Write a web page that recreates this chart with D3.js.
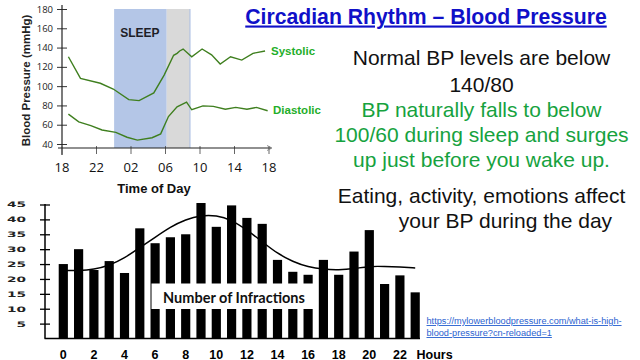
<!DOCTYPE html>
<html><head><meta charset="utf-8">
<script src="https://cdn.jsdelivr.net/npm/d3@7"></script>
<style>
body{margin:0;background:#fff;}
svg{display:block;}
</style>
</head><body>
<svg id="c" width="640" height="360" font-family="'Liberation Sans', Arial, sans-serif"></svg>
<script>
// ---------- data: blood pressure chart ----------
const bpTicks = [18, 22, 26, 30, 34, 38, 42];
const bpTickLabels = ["18", "22", "02", "06", "10", "14", "18"];
const bpYTicks = [40, 60, 80, 100, 120, 140, 160, 180];
const systolicHours  = [18.8, 20.2, 22.5, 24.0, 25.8, 27.0, 28.7, 29.9, 31.0, 31.4, 31.7, 32.1, 33.1, 34.3, 35.4, 36.4, 37.6, 38.9, 40.2, 41.6];
const systolicValues = [130.5, 108, 103, 97, 86, 85, 93, 111.5, 132, 134, 136.5, 138.5, 130.5, 138.5, 132.5, 123, 130.5, 127, 134, 136.5];
const diastolicHours  = [18.8, 20.0, 21.4, 22.7, 24.3, 25.6, 26.8, 28.5, 29.5, 30.4, 31.4, 32.5, 33.1, 34.4, 35.6, 37.0, 38.2, 39.5, 40.6, 41.9];
const diastolicValues = [71, 63, 59, 54.5, 52, 47, 44, 46.5, 50.5, 68.5, 78.5, 83.5, 75.5, 79.5, 79, 76, 78, 76, 78, 74.5];
const sleepPeriod = [24.1, 30.2];
const wakePeriod = [30.2, 32.9];

// ---------- data: infarction chart ----------
const infHours  = [0,1,2,3,4,5,6,7,8,9,10,11,12,13,14,15,16,17,18,19,20,21,22,23];
const infCounts = [25, 30, 23, 26, 22, 37, 32, 34, 35, 45.5, 37.5, 44.7, 40.5, 38.5, 26.4, 22.4, 21.4, 26.4, 21.4, 29.2, 36.4, 18.3, 21.2, 15.5];
const infTrend  = [22.8, 22.8, 23.2, 24.5, 27, 30.5, 34, 37.5, 40, 41.4, 41.4, 39.8, 36.5, 32.5, 28.5, 25.8, 24, 23.2, 23, 23.4, 24.3, 24.2, 24, 23.7];
const infYTicks = [5, 10, 15, 20, 25, 30, 35, 40, 45];
const infXLabelHours = [0, 2, 4, 6, 8, 10, 12, 14, 16, 18, 20, 22];

// ---------- text ----------
const titleText = "Circadian Rhythm \u2013 Blood Pressure";
const blackLines1 = ["Normal BP levels are below", "140/80"];
const greenLines = ["BP naturally falls to below", "100/60 during sleep and surges", "up just before you wake up."];
const blackLines2 = ["Eating, activity, emotions affect", "your BP during the day"];
const linkLines = ["https://mylowerbloodpressure.com/what-is-high-", "blood-pressure?cn-reloaded=1"];

const svg = d3.select("#c");
svg.append("rect").attr("width", 640).attr("height", 360).attr("fill", "#fff");

// ================= Top chart =================
const x1 = d3.scaleLinear().domain([18, 42]).range([61.5, 268.5]);
const y1 = d3.scaleLinear().domain([40, 180]).range([144, 9]);
const topG = svg.append("g");

topG.append("rect").attr("x", x1(sleepPeriod[0])).attr("y", 9)
  .attr("width", x1(sleepPeriod[1]) - x1(sleepPeriod[0])).attr("height", 148 - 9)
  .attr("fill", "#b4c6e7");
topG.append("rect").attr("x", x1(wakePeriod[0])).attr("y", 9)
  .attr("width", x1(wakePeriod[1]) - x1(wakePeriod[0])).attr("height", 148 - 9)
  .attr("fill", "#d9d9d9");
topG.append("line").attr("x1", x1(wakePeriod[1])).attr("x2", x1(wakePeriod[1]))
  .attr("y1", 9).attr("y2", 148).attr("stroke", "#a9bde3").attr("stroke-width", 1);
topG.append("text").attr("x", x1((sleepPeriod[0] + sleepPeriod[1]) / 2) - 0.5).attr("y", 36.5)
  .attr("text-anchor", "middle").attr("font-size", 12).attr("font-weight", "bold")
  .attr("fill", "#1e1e28").text("SLEEP");

// y axis
const yAx1 = topG.append("g").attr("transform", "translate(62,0)")
  .call(d3.axisLeft(y1).tickValues(bpYTicks).tickSize(5).tickPadding(4));
yAx1.attr("font-family", null);
yAx1.select(".domain").remove();
yAx1.selectAll(".tick line").attr("x1", -5).attr("x2", 5).attr("stroke", "#333");
yAx1.selectAll(".tick text").attr("font-size", 9.5).attr("fill", "#222")
  .attr("font-family", "'Open Sans', sans-serif").attr("x", -9);
topG.append("line").attr("x1", 62).attr("x2", 62).attr("y1", 5).attr("y2", 155)
  .attr("stroke", "#222").attr("stroke-width", 1.2);

// x axis
const xAx1 = topG.append("g").attr("transform", "translate(0,148)")
  .call(d3.axisBottom(x1).tickValues(bpTicks).tickFormat((d, i) => bpTickLabels[i]).tickSize(6).tickPadding(9));
xAx1.select(".domain").remove();
xAx1.selectAll(".tick line").attr("y1", -2).attr("y2", 6).attr("stroke", "#666");
xAx1.selectAll(".tick text").attr("font-size", 13).attr("fill", "#111")
  .attr("font-family", "'Open Sans', sans-serif");
topG.append("line").attr("x1", 58).attr("x2", 271).attr("y1", 148).attr("y2", 148)
  .attr("stroke", "#222").attr("stroke-width", 1.2);
topG.append("path").attr("d", "M267,145.5 L272,148 L267,150.5").attr("fill", "none").attr("stroke", "#777").attr("stroke-width", 0.8);

// lines
const line1 = d3.line().x(d => x1(d[0])).y(d => y1(d[1]));
topG.append("path").datum(systolicHours.map((h, i) => [h, systolicValues[i]]))
  .attr("d", line1).attr("fill", "none").attr("stroke", "#3f7f1f").attr("stroke-width", 1.4);
topG.append("path").datum(diastolicHours.map((h, i) => [h, diastolicValues[i]]))
  .attr("d", line1).attr("fill", "none").attr("stroke", "#3f7f1f").attr("stroke-width", 1.4);

topG.append("text").attr("x", 271).attr("y", 55).attr("font-size", 11.5).attr("font-weight", "bold")
  .attr("fill", "#1fae2a").text("Systolic");
topG.append("text").attr("x", 273).attr("y", 113.5).attr("font-size", 11.5).attr("font-weight", "bold")
  .attr("fill", "#1fae2a").text("Diastolic");

topG.append("text").attr("transform", "translate(30,80.5) rotate(-90)").attr("text-anchor", "middle")
  .attr("font-size", 11.5).attr("font-weight", "bold").attr("fill", "#222").text("Blood Pressure (mmHg)");
topG.append("text").attr("x", 154).attr("y", 192.5).attr("text-anchor", "middle")
  .attr("font-size", 13).attr("font-weight", "bold").attr("fill", "#111").text("Time of Day");

// ================= Bottom chart =================
const x2 = d3.scaleBand().domain(infHours).range([55.65, 422.85]).paddingInner(0.4).paddingOuter(0.2);
const y2 = d3.scaleLinear().domain([0, 45]).range([338.5, 204.5]);
const bot = svg.append("g");

bot.selectAll("rect.bar").data(infHours).enter().append("rect").attr("class", "bar")
  .attr("x", d => x2(d)).attr("width", x2.bandwidth())
  .attr("y", (d, i) => y2(infCounts[i])).attr("height", (d, i) => y2(0) - y2(infCounts[i]))
  .attr("fill", "#000");

const line2 = d3.line().x((d, i) => x2(infHours[i]) + x2.bandwidth() / 2).y(d => y2(d)).curve(d3.curveBasis);
bot.append("path").datum(infTrend).attr("d", line2).attr("fill", "none")
  .attr("stroke", "#000").attr("stroke-width", 1.5);

bot.append("rect").attr("x", 151.5).attr("y", 283.5).attr("width", 161.5).attr("height", 25.5).attr("fill", "#fff");
bot.append("text").attr("x", 234).attr("y", 303).attr("text-anchor", "middle")
  .attr("font-family", "Lato, sans-serif").attr("font-weight", 700).attr("font-size", 14.5)
  .attr("fill", "#111").text("Number of Infractions");

// y axis
const yAx2 = bot.append("g").attr("transform", "translate(45,0)")
  .call(d3.axisLeft(y2).tickValues(infYTicks).tickSize(5).tickPadding(14));
yAx2.select(".domain").remove();
yAx2.selectAll(".tick line").attr("x1", -5).attr("x2", 5).attr("stroke", "#000").attr("stroke-width", 1.3);
yAx2.selectAll(".tick text").attr("font-family", "'DejaVu Sans', sans-serif").attr("font-weight", "bold")
  .attr("font-size", 7.5).attr("fill", "#222")
  .attr("textLength", d => String(d).length * 9.5).attr("lengthAdjust", "spacingAndGlyphs");
bot.append("line").attr("x1", 45).attr("x2", 45).attr("y1", 204).attr("y2", y2(0))
  .attr("stroke", "#000").attr("stroke-width", 1.5);
bot.append("line").attr("x1", 44.5).attr("x2", 420).attr("y1", y2(0)).attr("y2", y2(0))
  .attr("stroke", "#000").attr("stroke-width", 1.5);

// x labels
bot.selectAll("text.xl").data(infXLabelHours).enter().append("text").attr("class", "xl")
  .attr("x", d => x2(d) + x2.bandwidth() / 2).attr("y", 358.5).attr("text-anchor", "middle")
  .attr("font-size", 12.5).attr("font-weight", "bold").attr("fill", "#000").text(d => d);
bot.append("text").attr("x", 416.5).attr("y", 358.5).attr("font-size", 12.5).attr("font-weight", "bold")
  .attr("fill", "#000").text("Hours");

// ================= Text =================
svg.append("text").attr("x", 426).attr("y", 23.5).attr("text-anchor", "middle")
  .attr("font-size", 21.2).attr("font-weight", "bold").attr("fill", "#1010c8")
  .attr("text-decoration", "underline").text(titleText);

const tx = 481.5;
blackLines1.forEach((t, i) => svg.append("text").attr("x", tx).attr("y", 65 + i * 26.5)
  .attr("text-anchor", "middle").attr("font-size", 21).attr("fill", "#111").text(t));
greenLines.forEach((t, i) => svg.append("text").attr("x", tx).attr("y", 116.7 + i * 25)
  .attr("text-anchor", "middle").attr("font-size", 21).attr("fill", "#16a23e").text(t));
svg.append("text").attr("x", tx).attr("y", 203).attr("text-anchor", "middle")
  .attr("font-size", 21).attr("fill", "#111").text(blackLines2[0]);
svg.append("text").attr("x", 505.5).attr("y", 228).attr("text-anchor", "middle")
  .attr("font-size", 21).attr("fill", "#111").text(blackLines2[1]);

linkLines.forEach((t, i) => svg.append("text").attr("x", 426.5).attr("y", 324 + i * 12)
  .attr("font-size", 9.2).attr("fill", "#2a62d0").attr("text-decoration", "underline").text(t));
</script>
</body></html>
